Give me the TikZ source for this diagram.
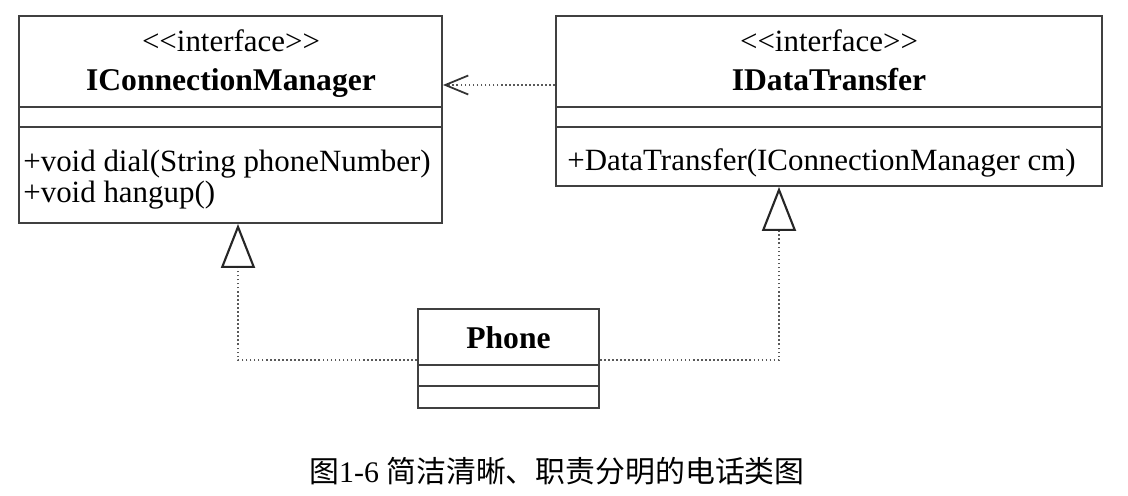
\documentclass[tikz,border=0pt]{standalone}
\usepackage{fontspec}
\setmainfont{Liberation Serif}
\newfontfamily\cjk{Noto Sans CJK SC}
\usetikzlibrary{arrows.meta,calc,fit}
\newcommand{\umlstereo}[1]{<\kern0pt<#1>\kern0pt>}

\begin{document}
\begin{tikzpicture}[x=0.02cm,y=-0.02cm,
  umlbox/.style={draw=black!75,line width=1.1pt,inner sep=0pt},
  umlline/.style={draw=black!75,line width=1.1pt},
  umltext/.style={inner sep=0pt,font=\fontsize{17.6}{21}\selectfont},
  umlname/.style={inner sep=0pt,font=\fontsize{18}{21}\selectfont\bfseries},
  depend/.style={draw=black!65,line width=.8pt,dash pattern=on .9pt off 1.4pt,-{Straight Barb[length=.46cm,width=.38cm,line width=1pt,color=black!80]}},
  realize/.style={draw=black!65,line width=.8pt,dash pattern=on .9pt off 1.4pt,-{Triangle[open,length=.88cm,width=.68cm,line width=1.2pt,color=black!85]}}]
\useasboundingbox[fill=white] (0,0) rectangle (1128,496);

% classes
\node[umlbox,fit={(19,16) (442,223)}] (icm) {};
\node[umlbox,fit={(556,16) (1102,186)}] (idt) {};
\node[umlbox,fit={(418,309) (599,408)}] (phone) {};
\foreach \n/\d in {icm/92,icm/112,idt/92,idt/112,phone/57,phone/78}
  \draw[umlline] ($(\n.north west)+(0,\d)$) -- ($(\n.north east)+(0,\d)$);

\node[umltext,anchor=base] (icm-st) at (231,52) {\umlstereo{interface}};
\node[umlname,anchor=base] (icm-name) at (231,91) {IConnectionManager};
\node[umltext,anchor=base west] (icm-m1) at (23,172) {+void dial(String phoneNumber)};
\node[umltext,anchor=base west] (icm-m2) at (23,203) {+void hangup()};

\node[umltext,anchor=base] (idt-st) at (829,52) {\umlstereo{interface}};
\node[umlname,anchor=base] (idt-name) at (829,91) {IDataTransfer};
\node[umltext,anchor=base west] (idt-m1) at (567,171) {+DataTransfer(IConnectionManager cm)};

\node[umlname,anchor=base] (phone-name) at (508.5,348) {Phone};

% relations
\coordinate (dep) at (0,85);
\coordinate (lx) at (238,360);
\coordinate (rx) at (779,360);
\draw[depend] (idt.west |- dep) -- (icm.east |- dep);
\draw[realize] (phone.west |- lx) -| (icm.south -| lx);
\draw[realize] (phone.east |- rx) -| (idt.south -| rx);

\node[anchor=base,inner sep=0pt,font=\fontsize{17}{20}\selectfont] (caption) at (557,482) {{\cjk 图}1-6 {\cjk 简洁清晰、职责分明的电话类图}};
\end{tikzpicture}
\end{document}
